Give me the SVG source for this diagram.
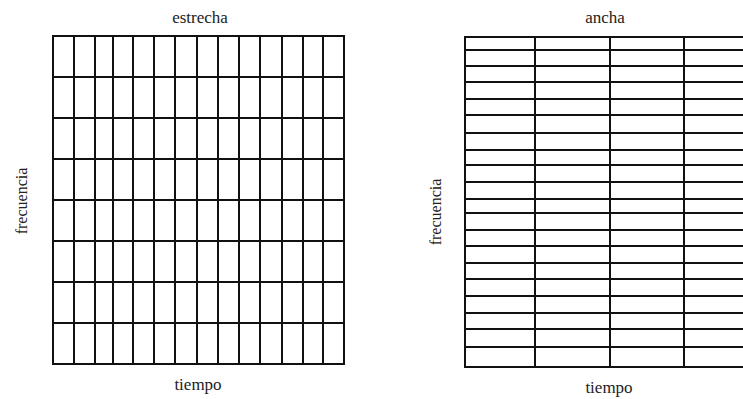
<svg xmlns="http://www.w3.org/2000/svg" width="743" height="399" viewBox="0 0 743 399">
<style>
.g{stroke:#111;stroke-width:2;fill:none;stroke-linecap:square}
.t{font-family:'Liberation Serif','Tinos','Times New Roman','DejaVu Serif',serif;font-size:17px;fill:#222;text-anchor:middle}
.v{font-size:16px}
</style>
<rect width="743" height="399" fill="#fff"/>
<g id="narrow">
<text class="t" x="200" y="23" font-family="Liberation Serif, DejaVu Serif, serif">estrecha</text>
<text class="t" x="198" y="390" font-family="Liberation Serif, DejaVu Serif, serif">tiempo</text>
<text class="t v" transform="translate(27,201) rotate(-90)" font-family="Liberation Serif, DejaVu Serif, serif">frecuencia</text>
<path class="g" d="M53,36V364M74,36V364M95,36V364M113,36V364M133,36V364M154,36V364M175,36V364M197,36V364M218,36V364M239,36V364M260,36V364M282,36V364M303,36V364M323,36V364M344,36V364"/>
<path class="g" d="M53,36H344M53,77H344M53,118H344M53,159H344M53,200H344M53,241H344M53,282H344M53,323H344M53,364H344"/>
</g>
<g id="wide">
<text class="t" x="605" y="23" font-family="Liberation Serif, DejaVu Serif, serif">ancha</text>
<text class="t" x="609" y="393" font-family="Liberation Serif, DejaVu Serif, serif">tiempo</text>
<text class="t v" transform="translate(441,212) rotate(-90)" font-family="Liberation Serif, DejaVu Serif, serif">frecuencia</text>
<path class="g" d="M465,37V367M535,37V367M610,37V367M684,37V367"/>
<path class="g" d="M465,37H743M465,50H743M465,66H743M465,82H743M465,99H743M465,115H743M465,133H743M465,150H743M465,165H743M465,182H743M465,199H743M465,213H743M465,230H743M465,246H743M465,263H743M465,279H743M465,296H743M465,313H743M465,329H743M465,347H743M465,367H743"/>
</g>
</svg>
